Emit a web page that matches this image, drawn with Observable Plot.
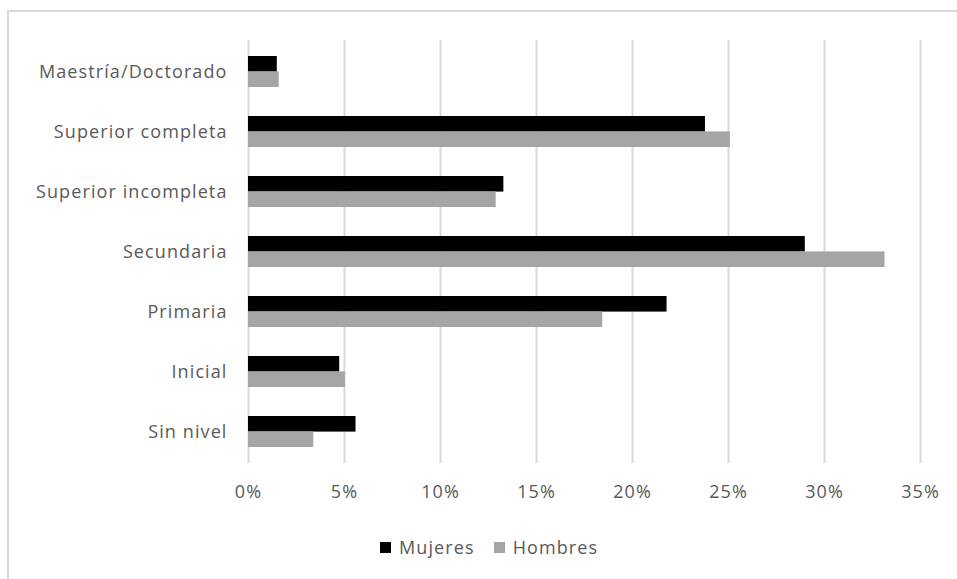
<!DOCTYPE html>
<html>
<head>
<meta charset="utf-8">
<script src="https://cdn.jsdelivr.net/npm/d3@7"></script>
<script src="https://cdn.jsdelivr.net/npm/@observablehq/plot@0.6"></script>
<style>
  html, body { margin: 0; padding: 0; background: #fff; }
  #wrap { position: relative; width: 957px; height: 579px; overflow: hidden; font-family: "Open Sans", sans-serif; }
  #frame { position: absolute; left: 7px; top: 10px; width: 1000px; height: 1000px; border-left: 2px solid #d9d9d9; border-top: 2px solid #d9d9d9; }
  #chart { position: absolute; left: 0; top: 0; }
  #legend { position: absolute; left: 380px; top: 536px; display: flex; align-items: center; font-size: 18px; letter-spacing: 1.1px; color: #595959; line-height: 22px; }
  .item { display: flex; align-items: center; }
  .item + .item { margin-left: 19px; }
  .sw { width: 11px; height: 11px; display: inline-block; margin-right: 8px; }
</style>
</head>
<body>
<div id="wrap">
  <div id="frame"></div>
  <div id="chart"></div>
  <div id="legend"></div>
</div>
<script>
const categories = ["Maestría/Doctorado", "Superior completa", "Superior incompleta", "Secundaria", "Primaria", "Inicial", "Sin nivel"];
const series = ["Mujeres", "Hombres"];
const mujeres = [1.5, 23.8, 13.3, 29.0, 21.8, 4.75, 5.6];
const hombres = [1.6, 25.1, 12.9, 33.15, 18.45, 5.05, 3.4];
const xTicks = [0, 5, 10, 15, 20, 25, 30, 35];
const colors = ["#000000", "#a5a5a5"];

const data = [];
categories.forEach((c, i) => {
  data.push({cat: c, serie: series[0], value: mujeres[i]});
  data.push({cat: c, serie: series[1], value: hombres[i]});
});

const H = 520, mT = 40, mB = 57;
const pIn = 0.49, pOut = 0.245;
const step = (H - mT - mB) / (categories.length - pIn + 2 * pOut);
const half = step * (1 - pIn) / 2;

const chart = Plot.plot({
  width: 957,
  height: H,
  marginLeft: 248,
  marginRight: 37,
  marginTop: mT,
  marginBottom: mB,
  style: {fontFamily: "Open Sans, sans-serif", fontSize: "18px", letterSpacing: "1.1px", color: "#595959", background: "transparent"},
  x: {domain: [0, 35], ticks: xTicks, tickFormat: d => d + "%", label: null, tickSize: 0, tickPadding: 22},
  y: {domain: categories, label: null, tickSize: 0, tickPadding: 21, paddingInner: pIn, paddingOuter: pOut},
  color: {domain: series, range: colors},
  marks: [
    Plot.gridX(xTicks, {stroke: "#d9d9d9", strokeOpacity: 1, strokeWidth: 2}),
    Plot.barX(data.filter(d => d.serie === series[0]), {x: "value", y: "cat", fill: "serie", insetBottom: half}),
    Plot.barX(data.filter(d => d.serie === series[1]), {x: "value", y: "cat", fill: "serie", insetTop: half})
  ]
});
document.getElementById("chart").appendChild(chart);

const legend = document.getElementById("legend");
series.forEach((s, i) => {
  const it = document.createElement("div");
  it.className = "item";
  it.innerHTML = `<span class="sw" style="background:${colors[i]}"></span><span>${s}</span>`;
  legend.appendChild(it);
});
</script>
</body>
</html>
